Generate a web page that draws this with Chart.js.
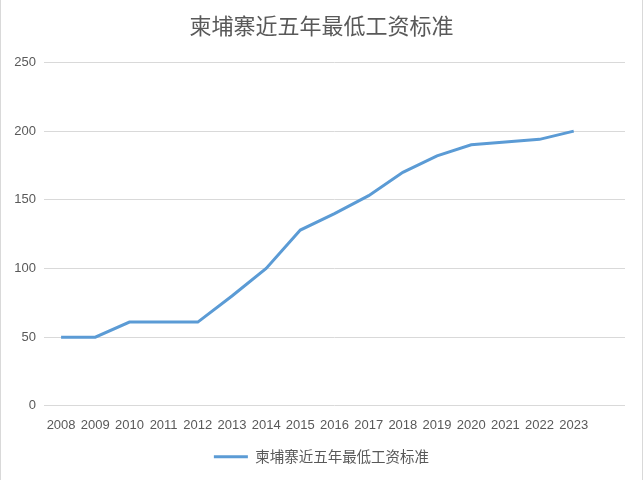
<!DOCTYPE html>
<html>
<head>
<meta charset="utf-8">
<script src="https://cdn.jsdelivr.net/npm/chart.js@4"></script>
<style>
  html, body { margin: 0; padding: 0; background: #fff; }
  #wrap { width: 643px; height: 480px; }
</style>
</head>
<body>
<div id="wrap"><canvas id="wageChart" width="643" height="480"></canvas></div>
<script>
// years on the x axis (last slot is empty, as in the original sheet)
var years = ['2008', '2009', '2010', '2011', '2012', '2013', '2014', '2015',
             '2016', '2017', '2018', '2019', '2020', '2021', '2022', '2023', ''];
// minimum wage, USD per month
var wages = [50, 50, 61, 61, 61, 80, 100, 128, 140, 153, 170, 182, 190, 192, 194, 200, null];
var yTicks = [0, 50, 100, 150, 200, 250];
var seriesName = '柬埔寨近五年最低工资标准';

var grey = '#595959';
var cjk = '"Noto Sans CJK SC", "Noto Sans", sans-serif';
var latin = '"Liberation Sans", Arial, sans-serif';

// thin frame at the left and right edges
var framePlugin = {
  id: 'frame',
  afterDraw: function (chart) {
    var ctx = chart.ctx;
    ctx.save();
    ctx.strokeStyle = '#d9d9d9';
    ctx.lineWidth = 1;
    ctx.beginPath();
    ctx.moveTo(0.5, 0);
    ctx.lineTo(0.5, chart.height);
    ctx.moveTo(chart.width - 0.5, 0);
    ctx.lineTo(chart.width - 0.5, chart.height);
    ctx.stroke();
    ctx.restore();
  }
};

var ctx = document.getElementById('wageChart').getContext('2d');
new Chart(ctx, {
  type: 'line',
  data: {
    labels: years,
    datasets: [{
      label: seriesName,
      data: wages,
      borderColor: '#5b9bd5',
      backgroundColor: '#5b9bd5',
      borderWidth: 3,
      pointRadius: 0,
      tension: 0,
      fill: false
    }]
  },
  options: {
    responsive: false,
    animation: false,
    layout: { padding: { left: 0, right: 0, top: 0, bottom: 6 } },
    plugins: {
      title: {
        display: true,
        text: seriesName,
        color: grey,
        font: { family: cjk, size: 22, weight: 'normal' },
        padding: { top: 12, bottom: 24 }
      },
      legend: {
        position: 'bottom',
        labels: {
          color: grey,
          font: { family: cjk, size: 14.5 },
          usePointStyle: true,
          pointStyle: 'line',
          pointStyleWidth: 34,
          padding: 12
        }
      },
      tooltip: { enabled: false }
    },
    scales: {
      x: {
        offset: true,
        grid: { display: false },
        border: { display: false },
        ticks: {
          color: grey,
          font: { family: latin, size: 13 },
          maxRotation: 0,
          autoSkip: false,
          padding: 4
        }
      },
      y: {
        min: 0,
        max: 250,
        afterBuildTicks: function (scale) {
          scale.ticks = yTicks.map(function (v) { return { value: v }; });
        },
        afterFit: function (scale) { scale.width = 44; },
        grid: { color: '#d9d9d9', drawTicks: false },
        border: { display: false },
        ticks: {
          color: grey,
          font: { family: latin, size: 13 },
          padding: 8
        }
      },
      // empty right-hand margin so title and legend stay centred on the page
      yRight: {
        position: 'right',
        min: 0,
        max: 250,
        afterFit: function (scale) { scale.width = 18; },
        grid: { display: false },
        border: { display: false },
        ticks: { display: false }
      }
    }
  },
  plugins: [framePlugin]
});
</script>
</body>
</html>
